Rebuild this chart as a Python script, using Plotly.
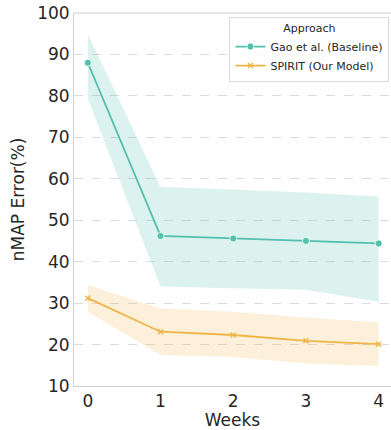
import plotly.graph_objects as go

weeks = [0, 1, 2, 3, 4]
gao_mean = [88.0, 46.2, 45.6, 45.0, 44.4]
gao_upper = [94.9, 58.0, 57.4, 56.7, 55.7]
gao_lower = [79.3, 34.0, 33.6, 33.2, 30.3]
spirit_mean = [31.2, 23.1, 22.3, 20.9, 20.1]
spirit_upper = [34.3, 28.7, 27.9, 26.5, 25.4]
spirit_lower = [27.9, 17.5, 17.0, 15.4, 14.8]
y_ticks = [10, 20, 30, 40, 50, 60, 70, 80, 90, 100]

teal = "#52c0ac"
orange = "#efb446"
font = "DejaVu Sans"

fig = go.Figure()

def band(x, lo, hi, color):
    fig.add_trace(go.Scatter(x=x, y=hi, mode="lines", line=dict(width=0),
                             showlegend=False, hoverinfo="skip"))
    fig.add_trace(go.Scatter(x=x, y=lo, mode="lines", line=dict(width=0),
                             fill="tonexty", fillcolor=color,
                             showlegend=False, hoverinfo="skip"))

band(weeks, gao_lower, gao_upper, "rgba(77,191,169,0.2)")
band(weeks, spirit_lower, spirit_upper, "rgba(239,180,70,0.2)")

fig.add_trace(go.Scatter(x=weeks, y=gao_mean, mode="lines+markers",
                         name="Gao et al. (Baseline)",
                         line=dict(color=teal, width=1.8),
                         marker=dict(symbol="circle", size=7, color=teal,
                                     line=dict(color="white", width=0.8))))
fig.add_trace(go.Scatter(x=weeks, y=spirit_mean, mode="lines+markers",
                         name="SPIRIT (Our Model)",
                         line=dict(color=orange, width=1.8),
                         marker=dict(symbol="x-thin", size=5, color=orange,
                                     line=dict(color=orange, width=1.4))))

fig.update_layout(
    width=391, height=430,
    margin=dict(l=74, r=0, t=13, b=44),
    paper_bgcolor="white", plot_bgcolor="white",
    font=dict(family=font, color="#262626"),
    showlegend=True,
    legend=dict(
        title=dict(text="Approach", side="top center", font=dict(size=11, family=font, color="#262626")),
        font=dict(size=11, family=font, color="#262626"),
        traceorder="normal",
        x=0.995, y=0.99, xanchor="right", yanchor="top",
        bgcolor="rgba(255,255,255,0.8)", bordercolor="#d9d9d9", borderwidth=1,
        tracegroupgap=0, itemwidth=30,
    ),
    xaxis=dict(
        range=[-0.19, 4.17], tickvals=weeks, ticktext=[str(w) for w in weeks],
        showgrid=False, zeroline=False,
        showline=True, linecolor="#d0d0d0", linewidth=1, mirror=False,
        tickfont=dict(size=17, family=font, color="#262626"),
        title=dict(text="Weeks", font=dict(size=17, family=font, color="#262626"), standoff=6),
        ticks="", ticklen=0,
    ),
    yaxis=dict(
        range=[10, 100], tickvals=y_ticks,
        showgrid=True, gridcolor="#dcdcdc", griddash="dash", gridwidth=0.8,
        zeroline=False,
        showline=True, linecolor="#d0d0d0", linewidth=1,
        tickfont=dict(size=17, family=font, color="#262626"),
        title=dict(text="nMAP Error(%)", font=dict(size=17, family=font, color="#262626"), standoff=8),
        ticks="", ticklen=0,
    ),
)

fig.add_shape(type="line", xref="paper", yref="paper", x0=0, x1=1, y0=1, y1=1,
              line=dict(color="#d0d0d0", width=1))

fig.write_html("out.html", config={"displayModeBar": False},
               post_script="document.body.style.margin='0';document.body.style.overflow='hidden';")
